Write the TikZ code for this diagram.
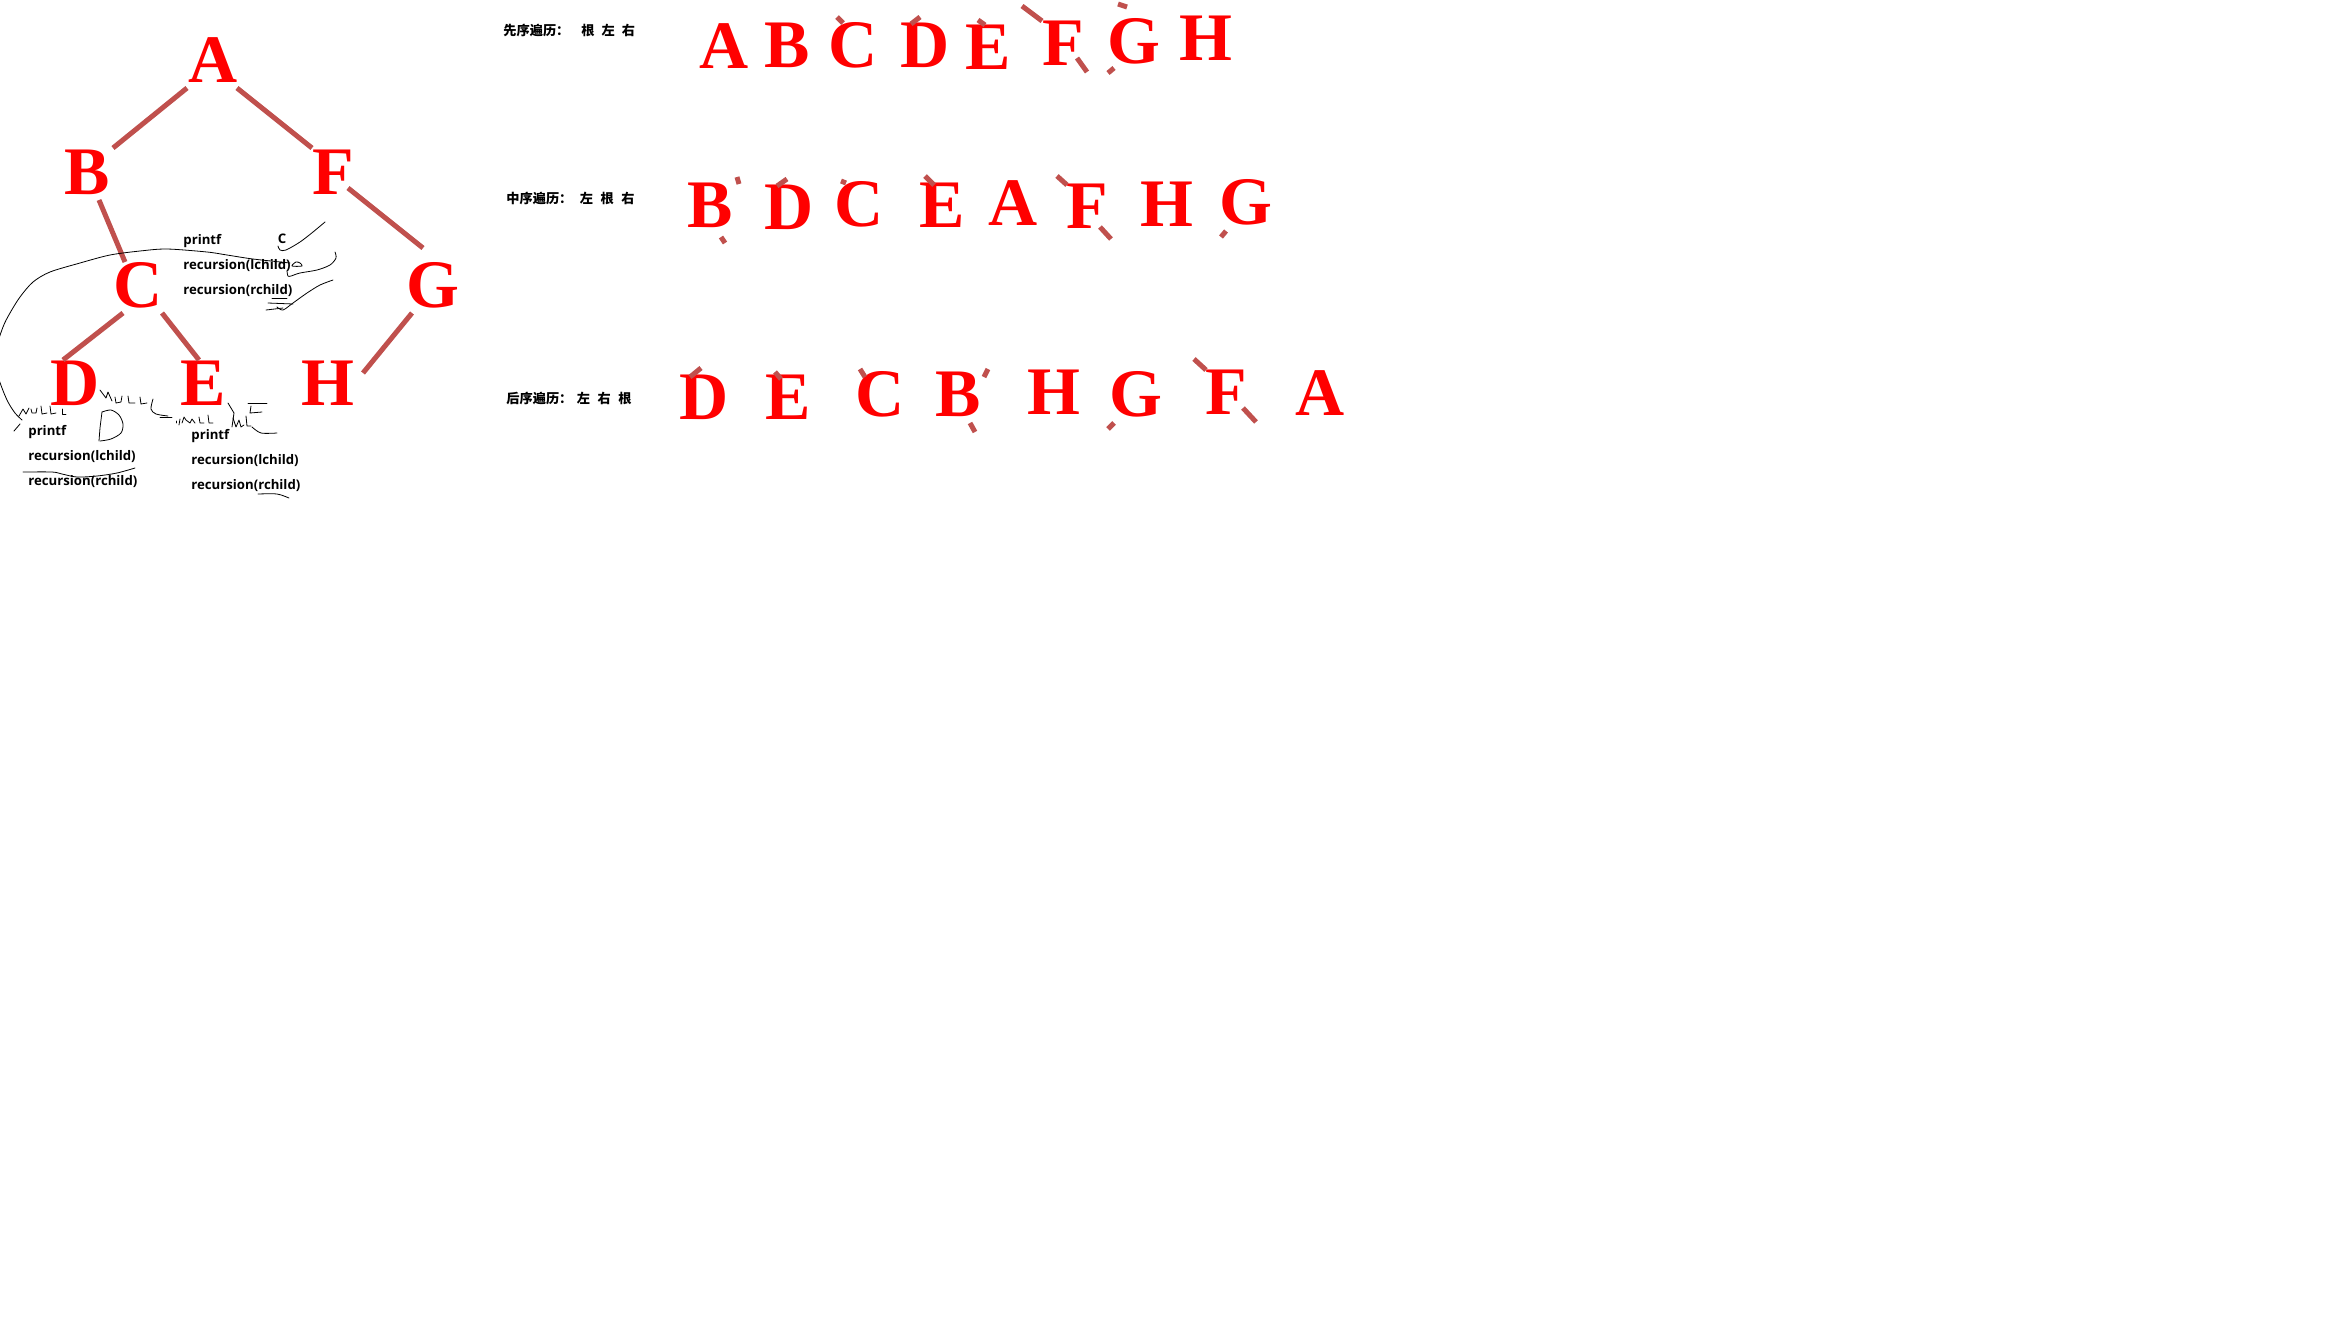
\documentclass[tikz,border=0pt]{standalone}
\usepackage{fontspec}
\setmainfont{Liberation Serif}
\newfontfamily\cjkfont{Noto Sans CJK SC}
\newfontfamily\codefont{Open Sans}
\usetikzlibrary{calc}
\definecolor{edgered}{RGB}{192,80,77}

\begin{document}
\begin{tikzpicture}[x=.5pt,y=-.5pt,
  letter/.style={text=red,inner sep=0pt,font=\bfseries\fontsize{34}{34}\selectfont},
  edge/.style={draw=edgered,line width=2.5pt},
  codetext/.style={anchor=west,inner sep=0pt,font=\codefont\bfseries\fontsize{6.6}{7}\selectfont},
  rowlabel/.style={anchor=west,inner sep=0pt,font=\cjkfont\bfseries\fontsize{6.6}{7}\selectfont},
  ink/.style={draw=black,line width=.4pt,line join=round,line cap=round}]
  \fill[white] (0,0) rectangle (2336,1324);
  \useasboundingbox (0,0) rectangle (2336,1324);

  % tree
  \node[letter] (A) at (213,60) {A};
  \node[letter] (B) at (87,172) {B};
  \node[letter] (F) at (333,172) {F};
  \node[letter] (C) at (138,285) {C};
  \node[letter] (G) at (433,285) {G};
  \node[letter] (D) at (75,383) {D};
  \node[letter] (E) at (203,383) {E};
  \node[letter] (H) at (328,383) {H};
  \foreach \a/\b/\ax/\ay/\bx/\by in {A/B/-26/28/26/-24, A/F/24/28/-21/-24,
      B/C/12/28/-13/-23, F/G/15/16/-10/-37, C/D/-15/28/-12/-23,
      C/E/24/28/-4/-23, G/H/-21/28/35/-10}
    \draw[edge] ($(\a)+(\ax,\ay)$) -- ($(\b)+(\bx,\by)$);

  % calls
  \node[codetext] (cprint) at (183,241) {printf};
  \node[codetext] (cleft) at (183,266) {recursion(lchild)};
  \node[codetext] (cright) at (183,291) {recursion(rchild)};
  \node[codetext,anchor=center] (ctag) at (282,239) {C};
  \node[codetext] (dprint) at (28,432) {printf};
  \node[codetext] (dleft) at (28,457) {recursion(lchild)};
  \node[codetext] (dright) at (28,482) {recursion(rchild)};
  \node[codetext] (eprint) at (191,436) {printf};
  \node[codetext] (eleft) at (191,461) {recursion(lchild)};
  \node[codetext] (eright) at (191,486) {recursion(rchild)};

  % handwriting
  \draw[ink] plot[smooth] coordinates {(290,263) (253,259) (227,255) (207,252) (167,249)
    (140,251) (110,255) (80,263) (50,272) (33,282) (20,297) (10,313) (3,327) (-4,350)
    (-3,372) (2,388) (8,402) (15,413) (22,420)};
  \draw[ink] (20,424) -- (14,431);
  \draw[ink] (19,416) -- (23,409) -- (26,414) -- (29,408);
  \draw[ink] (31,409) -- (32,413) -- (36,413) -- (37,408);
  \draw[ink] (41,406) -- (42,414) -- (47,413);
  \draw[ink] (50,406) -- (51,414) -- (56,413);
  \draw[ink] (62,409) -- (62,414) -- (66,414);
  \draw[ink] (100,390) -- (106,398) -- (108,392) -- (112,401);
  \draw[ink] (115,397) -- (116,403) -- (121,402) -- (122,396);
  \draw[ink] (128,396) -- (129,403) -- (135,403);
  \draw[ink] (140,397) -- (141,404) -- (147,403);
  \draw[ink] plot[smooth] coordinates {(153,399) (151,409) (156,414) (168,416)};
  \draw[ink] (176,421) -- (176,423);
  \draw[ink] (102,412) -- (100,428) -- (99,441);
  \draw[ink] plot[smooth] coordinates {(102,412) (111,410) (119,415) (123,424) (121,433) (111,439) (100,441)};
  \draw[ink] (160,417) -- (172,417);
  \draw[ink] (179,425) -- (180,419);
  \draw[ink] (182,423) -- (184,417) -- (186,420) -- (190,423) -- (192,419) -- (195,423);
  \draw[ink] (199,417) -- (200,423) -- (204,423);
  \draw[ink] (208,415) -- (209,423) -- (213,423);
  \draw[ink] (228,403) -- (234,413) -- (232,427);
  \draw[ink] (233,418) -- (236,427) -- (239,420) -- (241,427) -- (244,425);
  \draw[ink] (246,416) -- (247,426) -- (251,426);
  \draw[ink] (248,403) -- (267,403);
  \draw[ink] (251,406) -- (250,413) -- (262,412);
  \draw[ink] plot[smooth] coordinates {(252,427) (261,433) (277,433)};
  \draw[ink] plot[smooth] coordinates {(278,246) (280,250) (286,250) (300,242) (313,232) (325,222)};
  \draw[ink] plot[smooth] coordinates {(335,252) (336,258) (330,265) (317,270) (300,273) (291,276) (288,276) (287,271)};
  \draw[ink] plot[smooth cycle] coordinates {(292,266) (296,262) (300,263) (302,266)};
  \draw[ink] plot[smooth] coordinates {(333,280) (320,285) (307,293) (293,303) (283,310) (277,307)};
  \draw[ink] (272,298) -- (287,298);
  \draw[ink] (268,303) -- (293,304);
  \draw[ink] (266,310) -- (283,308);
  \draw[ink] plot[smooth] coordinates {(23,472) (52,472) (62,474) (77,477) (97,476) (117,473) (135,468)};
  \draw[ink] plot[smooth] coordinates {(258,494) (277,494) (289,498)};

  % traversals
  \node[rowlabel] (prelabel) at (503,30) {先序遍历：\hspace{6pt}根\hspace{3.5pt}左\hspace{3.5pt}右};
  \node[rowlabel] (inlabel) at (506,198) {中序遍历：\hspace{3.7pt}左\hspace{3.8pt}根\hspace{3.8pt}右};
  \node[rowlabel] (postlabel) at (506,398) {后序遍历：\hspace{2.2pt}左\hspace{3.8pt}右\hspace{3.8pt}根};
  \foreach \ch/\x/\y [count=\i] in {A/724/46, B/787/45, C/853/45, D/925/45,
      E/988/47, F/1063/43, G/1134/41, H/1206/38}
    \node[letter] (pre\i) at (\x,\y) {\ch};
  \foreach \ch/\x/\y [count=\i] in {B/710/205, D/789/207, C/859/204, E/942/205,
      A/1013/203, F/1087/206, H/1167/204, G/1246/202}
    \node[letter] (in\i) at (\x,\y) {\ch};
  \foreach \ch/\x/\y [count=\i] in {D/704/397, E/788/397, C/880/394, B/958/394,
      H/1054/392, G/1136/394, F/1226/392, A/1320/393}
    \node[letter] (post\i) at (\x,\y) {\ch};

  % edge pieces left in the rows
  \foreach \xa/\ya/\xb/\yb in {837/17/843/23, 911/24/920/17, 978/20/985/25,
      1022/6/1042/21, 1077/58/1087/72, 1118/4/1127/7, 1114/68/1108/73,
      737/177/739/184, 721/237/725/243, 777/186/787/179, 841/181/846/183,
      925/176/934/185, 1057/176/1067/185, 1100/227/1111/239, 1226/231/1221/237,
      690/377/701/368, 775/372/781/379, 860/369/865/377, 988/369/984/377,
      970/423/975/432, 1114/423/1108/429, 1194/359/1206/370, 1243/408/1256/422}
    \draw[edge] (\xa,\ya) -- (\xb,\yb);
\end{tikzpicture}
\end{document}
